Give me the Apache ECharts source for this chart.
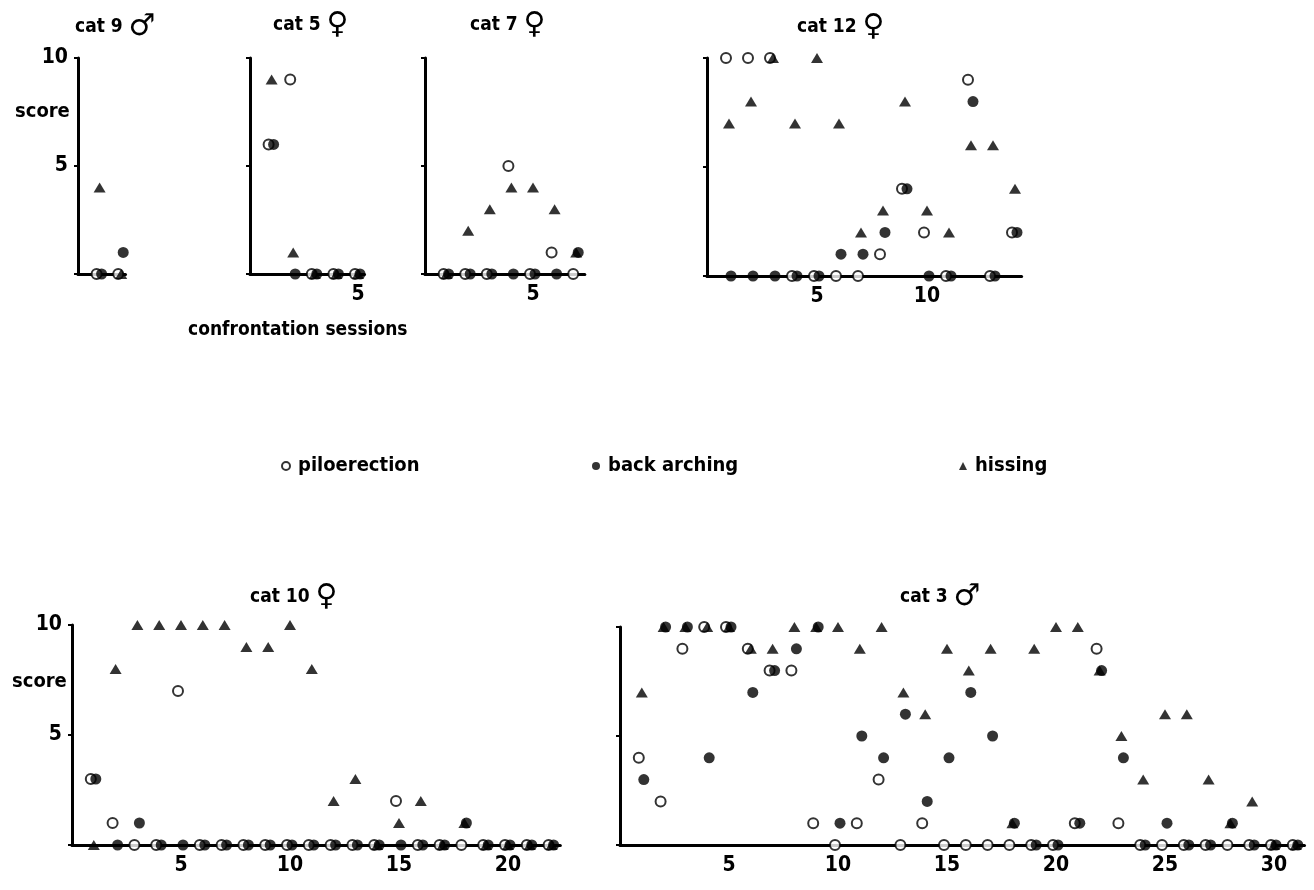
<!DOCTYPE html>
<html><head><meta charset="utf-8">
<script src="https://cdn.jsdelivr.net/npm/echarts@6/dist/echarts.min.js"></script>
<style>html,body{margin:0;padding:0;background:#fff}#c{width:1314px;height:890px}</style>
</head><body><div id="c"></div>
<script>
const FONT = '"Liberation Sans Narrow","DejaVu Sans Condensed","Arial Narrow",sans-serif';
const SYMFONT = '"DejaVu Sans",sans-serif';

// scores per confrontation session (session 1..N)
const cat9Pilo  = [0, 0];
const cat9Arch  = [0, 1];
const cat9Hiss  = [4, 0];
const cat5Pilo  = [6, 9, 0, 0, 0];
const cat5Arch  = [6, 0, 0, 0, 0];
const cat5Hiss  = [9, 1, 0, 0, 0];
const cat7Pilo  = [0, 0, 0, 5, 0, 1, 0];
const cat7Arch  = [0, 0, 0, 0, 0, 0, 1];
const cat7Hiss  = [0, 2, 3, 4, 4, 3, 1];
const cat12Pilo = [10, 10, 10, 0, 0, 0, 0, 1, 4, 2, 0, 9, 0, 2];
const cat12Arch = [0, 0, 0, 0, 0, 1, 1, 2, 4, 0, 0, 8, 0, 2];
const cat12Hiss = [7, 8, 10, 7, 10, 7, 2, 3, 8, 3, 2, 6, 6, 4];
const cat10Pilo = [3, 1, 0, 0, 7, 0, 0, 0, 0, 0, 0, 0, 0, 0, 2, 0, 0, 0, 0, 0, 0, 0];
const cat10Arch = [3, 0, 1, 0, 0, 0, 0, 0, 0, 0, 0, 0, 0, 0, 0, 0, 0, 1, 0, 0, 0, 0];
const cat10Hiss = [0, 8, 10, 10, 10, 10, 10, 9, 9, 10, 8, 2, 3, 0, 1, 2, 0, 1, 0, 0, 0, 0];
const cat3Pilo  = [4, 2, 9, 10, 10, 9, 8, 8, 1, 0, 1, 3, 0, 1, 0, 0, 0, 0, 0, 0, 1, 9, 1, 0, 0, 0, 0, 0, 0, 0, 0];
const cat3Arch  = [3, 10, 10, 4, 10, 7, 8, 9, 10, 1, 5, 4, 6, 2, 4, 7, 5, 1, 0, 0, 1, 8, 4, 0, 1, 0, 0, 1, 0, 0, 0];
const cat3Hiss  = [7, 10, 10, 10, 10, 9, 9, 10, 10, 10, 9, 10, 7, 6, 9, 8, 9, 1, 9, 10, 10, 8, 5, 3, 6, 6, 3, 1, 2, 0, 0];

const seriesNames = ['piloerection', 'back arching', 'hissing'];
const catTitles = ['cat 9', 'cat 5', 'cat 7', 'cat 12', 'cat 10', 'cat 3'];
const catSex = ['♂', '♀', '♀', '♀', '♀', '♂'];

// layout of each panel (pixels)
const panels = [
  {pilo: cat9Pilo,  arch: cat9Arch,  hiss: cat9Hiss,  left: 78,  top: 58,  h: 216, ux: 21.6, xMax: 2.2,  yLab: true,  xLab: false},
  {pilo: cat5Pilo,  arch: cat5Arch,  hiss: cat5Hiss,  left: 250, top: 58,  h: 216, ux: 21.6, xMax: 5.3,  yLab: false, xLab: true},
  {pilo: cat7Pilo,  arch: cat7Arch,  hiss: cat7Hiss,  left: 425, top: 58,  h: 216, ux: 21.6, xMax: 7.4,  yLab: false, xLab: true},
  {pilo: cat12Pilo, arch: cat12Arch, hiss: cat12Hiss, left: 707, top: 58,  h: 218, ux: 22.0, xMax: 14.3, yLab: false, xLab: true},
  {pilo: cat10Pilo, arch: cat10Arch, hiss: cat10Hiss, left: 72,  top: 625, h: 220, ux: 21.8, xMax: 22.4, yLab: true,  xLab: true},
  {pilo: cat3Pilo,  arch: cat3Arch,  hiss: cat3Hiss,  left: 620, top: 627, h: 218, ux: 21.8, xMax: 31.4, yLab: false, xLab: true}
];
const titlePos = [[75, 12], [273, 10], [470, 10], [797, 12], [250, 582], [900, 582]];

const lbl = {color: '#000', fontFamily: FONT, fontWeight: 'bold'};

const grid = panels.map(p => ({left: p.left, top: p.top, width: p.xMax * p.ux, height: p.h, outerBoundsMode: 'none', containLabel: false}));
const xAxis = panels.map((p, i) => ({
  gridIndex: i, type: 'value', min: 0, max: p.xMax, interval: 5,
  axisLine: {show: true, onZero: false, lineStyle: {color: '#000', width: 3}},
  axisTick: {show: false}, splitLine: {show: false},
  axisLabel: Object.assign({show: p.xLab, margin: 10, fontSize: 21,
    formatter: v => (v > 0 && v % 5 === 0) ? String(v) : '', showMaxLabel: false, showMinLabel: false}, lbl)
}));
const yAxis = panels.map((p, i) => ({
  gridIndex: i, type: 'value', min: 0, max: 10, interval: 5,
  axisLine: {show: true, lineStyle: {color: '#000', width: 3}},
  axisTick: {show: true, length: 4, lineStyle: {color: '#000', width: 2}},
  splitLine: {show: false},
  axisLabel: Object.assign({show: p.yLab, margin: 10, fontSize: 21,
    formatter: v => v > 0 ? String(v) : ''}, lbl)
}));

const series = [];
panels.forEach((p, i) => {
  series.push({
    name: seriesNames[0], type: 'scatter', xAxisIndex: i, yAxisIndex: i, clip: false,
    data: p.pilo.map((v, k) => [k + 1, v]),
    symbol: 'circle', symbolSize: 10, symbolOffset: [-3, 0],
    itemStyle: {color: '#fff', borderColor: '#000', borderWidth: 2}, z: 3
  });
  series.push({
    name: seriesNames[1], type: 'scatter', xAxisIndex: i, yAxisIndex: i, clip: false,
    data: p.arch.map((v, k) => [k + 1, v]),
    symbol: 'circle', symbolSize: 11, symbolOffset: [2, 0],
    itemStyle: {color: '#000'}, z: 4
  });
  series.push({
    name: seriesNames[2], type: 'scatter', xAxisIndex: i, yAxisIndex: i, clip: false,
    data: p.hiss.map((v, k) => [k + 1, v]),
    symbol: 'triangle', symbolSize: [12, 10],
    itemStyle: {color: '#000'}, z: 5
  });
});

const title = catTitles.map((t, i) => ({
  text: '{t|' + t + ' }{s|' + catSex[i] + '}', left: titlePos[i][0], top: titlePos[i][1], padding: 0,
  textStyle: {rich: {
    t: {fontSize: 19, fontWeight: 'bold', fontFamily: FONT, color: '#000'},
    s: {fontSize: 30, fontWeight: 'bold', fontFamily: SYMFONT, color: '#000'}
  }}
}));
title.push({text: 'score', left: 15, top: 102, padding: 0, textStyle: Object.assign({fontSize: 20}, lbl)});
title.push({text: 'score', left: 12, top: 672, padding: 0, textStyle: Object.assign({fontSize: 20}, lbl)});
title.push({text: 'confrontation sessions', left: 188, top: 321, padding: 0, textStyle: Object.assign({fontSize: 19}, lbl)});

const legendPos = [281, 592, 959];
const legend = seriesNames.map((n, i) => ({
  data: [n], left: legendPos[i], top: 456, itemWidth: 8, itemHeight: 8, itemGap: 4, padding: 0,
  selectedMode: false,
  textStyle: Object.assign({fontSize: 20, padding: [0, 0, 0, 3]}, lbl)
}));

const chart = echarts.init(document.getElementById('c'), null, {renderer: 'canvas'});
chart.setOption({
  backgroundColor: '#fff', animation: false,
  title, legend, grid, xAxis, yAxis, series,
  tooltip: {show: false}
});
</script></body></html>
